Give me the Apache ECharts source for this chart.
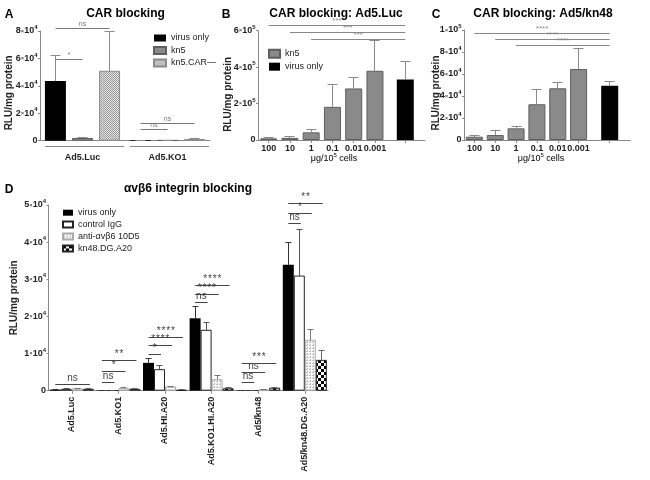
<!DOCTYPE html>
<html><head><meta charset="utf-8">
<script src="https://cdn.jsdelivr.net/npm/echarts@6/dist/echarts.min.js"></script>
<style>html,body{margin:0;padding:0;background:#fff}#c{width:650px;height:480px}</style>
</head><body><div id="c"></div>
<script>
// ================= DATA =================
// Panel A
const aCategories = ['Ad5.Luc', 'Ad5.KO1'];
const aSeriesNames = ['virus only', 'kn5', 'kn5.CAR—'];
const aVirusOnly = [43500, 500];
const aVirusOnlyErr = [18500, 0];
const aKn5 = [2000, 400];
const aKn5Err = [600, 0];
const aKn5CAR = [51000, 1200];
const aKn5CARErr = [28500, 300];
const aTicks = ['0', '2×10^4', '4×10^4', '6×10^4', '8×10^4'];
const aSig = [[0, 0, 2, 82000], [0, 0, 1, 59000], [1, 0, 2, 12900], [1, 0, 1, 8500]];
const aSigLabels = ['ns', '*', 'ns', 'ns'];

// Panel B
const bCategories = ['100', '10', '1', '0.1', '0.01', '0.001'];
const bKn5 = [9000, 12000, 42000, 182000, 283000, 380000];
const bKn5Err = [5000, 5000, 17000, 125000, 58000, 164000];
const bVirusOnly = [332000];
const bVirusOnlyErr = [97000];
const bTicks = ['0', '2×10^5', '4×10^5', '6×10^5'];
const bSig = [[0, 631000], [1, 591000], [2, 554000]];
const bSigLabels = ['***', '***', '***'];

// Panel C
const cCategories = ['100', '10', '1', '0.1', '0.01', '0.001'];
const cKn5 = [3000, 4500, 10600, 32500, 47000, 64500];
const cKn5Err = [1500, 3700, 2100, 13600, 5500, 18900];
const cVirusOnly = [49400];
const cVirusOnlyErr = [4200];
const cTicks = ['0', '2×10^4', '4×10^4', '6×10^4', '8×10^4', '1×10^5'];
const cSig = [[0, 97000], [1, 91500], [2, 86100]];
const cSigLabels = ['****', '****', '****'];

// Panel D
const dCategories = ['Ad5.Luc', 'Ad5.KO1', 'Ad5.HI.A20', 'Ad5.KO1.HI.A20', 'Ad5/kn48', 'Ad5/kn48.DG.A20'];
const dSeriesNames = ['virus only', 'control IgG', 'anti-αvβ6 10D5', 'kn48.DG.A20'];
const dVirusOnly = [300, 100, 7500, 19500, 100, 33900];
const dVirusOnlyErr = [100, 0, 1200, 3100, 0, 6000];
const dIgG = [500, 100, 5800, 16400, 100, 31000];
const dIgGErr = [100, 0, 900, 2000, 0, 12500];
const dAnti = [600, 700, 1100, 3100, 300, 13700];
const dAntiErr = [100, 200, 100, 900, 100, 2700];
const dKn48 = [500, 500, 200, 650, 800, 8300];
const dKn48Err = [100, 100, 0, 100, 100, 2500];
const dTicks = ['0', '1×10^4', '2×10^4', '3×10^4', '4×10^4', '5×10^4'];
const dSig = [[0, 0, 3, 1700], [1, 0, 1, 2150], [1, 0, 2, 5100], [1, 0, 3, 8100],
  [2, 0, 1, 9800], [2, 0, 2, 12050], [2, 0, 3, 14400],
  [3, 0, 1, 23700], [3, 0, 2, 26000], [3, 0, 3, 28200],
  [4, 0, 1, 2150], [4, 0, 2, 4850], [4, 0, 3, 7200],
  [5, 0, 1, 45100], [5, 0, 2, 47800], [5, 0, 3, 50500]];
const dSigLabels = ['ns', 'ns', '*', '**', '*', '****', '****', 'ns', '****', '****', 'ns', 'ns', '***', 'ns', '*', '**'];

// Texts
const titles = ['CAR blocking', 'CAR blocking: Ad5.Luc', 'CAR blocking: Ad5/kn48', 'αvβ6 integrin blocking'];
const panelLetters = ['A', 'B', 'C', 'D'];
const yName = 'RLU/mg protein';
const xNameBC = ['μg/10', '5', ' cells'];

// ================= LAYOUT / STYLE =================
const FONT = '"Liberation Sans", Arial, sans-serif';
const G = {
  A: {left: 40, top: 31, width: 170, height: 109.7},
  B1: {left: 258, top: 30.7, width: 127.6, height: 109.3},
  B2: {left: 385.6, top: 30.7, width: 39.4, height: 109.3},
  C1: {left: 464, top: 30, width: 125, height: 110},
  C2: {left: 589, top: 30, width: 41.4, height: 110},
  D: {left: 48.5, top: 205, width: 279.6, height: 185.7}
};
const AXC = '#888';
const crisp = v => Math.round(v - 0.5) + 0.5;

function pat(w, h, draw) {
  const c = document.createElement('canvas'); c.width = w; c.height = h;
  const g = c.getContext('2d'); draw(g); return {image: c, repeat: 'repeat'};
}
const hatch = pat(4, 4, g => {
  g.fillStyle = '#e4e4e4'; g.fillRect(0, 0, 4, 4); g.fillStyle = '#9a9a9a';
  for (let i = 0; i < 4; i++) { g.fillRect(i, i, 1, 1); g.fillRect((i + 2) % 4, i, 1, 1); }
});
const dots = pat(3, 3, g => {
  g.fillStyle = '#fafafa'; g.fillRect(0, 0, 3, 3); g.fillStyle = '#bdbdbd';
  g.fillRect(0, 0, 2, 1); g.fillRect(1, 2, 1, 1);
});
const checker = pat(6, 6, g => {
  g.fillStyle = '#fff'; g.fillRect(0, 0, 6, 6); g.fillStyle = '#000';
  g.fillRect(0, 0, 3, 3); g.fillRect(3, 3, 3, 3);
});

const tickRich = {
  m: {fontSize: 9, fontWeight: 'bold', color: '#222', fontFamily: FONT},
  x: {fontSize: 6, color: '#222', fontFamily: FONT},
  e: {fontSize: 6, fontWeight: 'bold', color: '#222', fontFamily: FONT, padding: [0, 0, 7, 0]}
};
function tickFmt(labels) {
  return (v, i) => {
    const t = labels[i]; if (t === undefined) return '';
    const p = t.split('^');
    if (p.length < 2) return '{m|' + p[0] + '}';
    const q = p[0].split('×');
    return '{m|' + q[0] + '}{x|×}{m|' + q[1] + '}{e|' + p[1] + '}';
  };
}

const grids = [G.A, G.B1, G.B2, G.C1, G.C2, G.D];

function xAxis(gi, data, opts) {
  return Object.assign({
    gridIndex: gi, type: 'category', data: data,
    axisLine: {lineStyle: {color: AXC, width: 1}},
    axisTick: {show: true, alignWithLabel: true, length: 3, lineStyle: {color: AXC}},
    axisLabel: {interval: 0, margin: 4, fontSize: 9, fontWeight: 'bold', color: '#222', fontFamily: FONT}
  }, opts || {});
}
function yAxis(gi, max, interval, labels, show, nameGap, namePad) {
  return {
    gridIndex: gi, type: 'value', min: 0, max: max, interval: interval, show: show,
    splitLine: {show: false},
    axisLine: {show: true, lineStyle: {color: AXC, width: 1}},
    axisTick: {show: true, length: 2, lineStyle: {color: AXC}},
    axisLabel: {margin: 2.5, formatter: tickFmt(labels), rich: tickRich},
    name: show ? yName : '', nameLocation: 'middle', nameGap: nameGap, nameMoveOverlap: false,
    nameTextStyle: {fontSize: 10, fontWeight: 'bold', color: '#222', fontFamily: FONT, padding: namePad}
  };
}

const xAxes = [
  xAxis(0, aCategories, {axisTick: {show: false}, axisLabel: {interval: 0, margin: 12, fontSize: 9, fontWeight: 'bold', color: '#222', fontFamily: FONT}}),
  xAxis(1, bCategories),
  xAxis(2, ['']),
  xAxis(3, cCategories),
  xAxis(4, ['']),
  xAxis(5, dCategories, {axisLabel: {interval: 0, rotate: 90, margin: 6, fontSize: 9, fontWeight: 'bold', color: '#222', fontFamily: FONT}})
];
const yAxes = [
  yAxis(0, 80000, 20000, aTicks, true, 26, [0, 14, 0, 0]),
  yAxis(1, 600000, 200000, bTicks, true, 25, [0, 18, 0, 0]),
  yAxis(2, 600000, 200000, bTicks, false, 0, 0),
  yAxis(3, 100000, 20000, cTicks, true, 23, [0, 16, 0, 0]),
  yAxis(4, 100000, 20000, cTicks, false, 0, 0),
  yAxis(5, 50000, 10000, dTicks, true, 29, 0)
];

const styBlack = {color: '#000'};
const styGray = {color: '#8a8a8a', borderColor: '#5e5e5e', borderWidth: 1};
const styHatch = {color: hatch, borderColor: '#8a8a8a', borderWidth: 1};
const styWhite = {color: '#fff', borderColor: '#222', borderWidth: 1};
const styDots = {color: dots, borderColor: '#aaa', borderWidth: 1};
const styChecker = {color: checker, borderColor: '#222', borderWidth: 1};

function bar(name, xi, data, style, w, gap) {
  const s = {type: 'bar', name: name, xAxisIndex: xi, yAxisIndex: xi, data: data, barWidth: w,
    itemStyle: style, silent: true, z: 2};
  if (gap !== undefined) s.barGap = gap;
  return s;
}

// error bars: rows [cat, seriesIdx, value, err]
function errSeries(xi, rows, offFn, cap, colors) {
  return {
    type: 'custom', xAxisIndex: xi, yAxisIndex: xi, data: rows, silent: true, z: 4, clip: false,
    renderItem(params, api) {
      const cat = api.value(0), s = api.value(1), v = api.value(2), e = api.value(3);
      const p0 = api.coord([cat, v]), p1 = api.coord([cat, v + e]);
      const x = crisp(p0[0] + offFn(s)), y0 = Math.round(p0[1]), y1 = crisp(p1[1]);
      const st = {stroke: colors[s], lineWidth: 1};
      return {type: 'group', children: [
        {type: 'line', shape: {x1: x, y1: y0, x2: x, y2: y1}, style: st},
        {type: 'line', shape: {x1: x - cap / 2, y1: y1, x2: x + cap / 2, y2: y1}, style: st}
      ]};
    }
  };
}
function rowsFor(vals, errs) {
  const r = [];
  vals.forEach((arr, s) => arr.forEach((v, c) => r.push([c, s, v, errs[s][c]])));
  return r;
}
function sigText(t, spaced) { return spaced && /^\*+$/.test(t) ? t.split('').join('\u200A') : t; }
// significance lines within a grouped panel: rows [cat, from, to, y]
function sigSeries(xi, rows, labels, offFn, color, fs, spaced, endExt) {
  return {
    type: 'custom', xAxisIndex: xi, yAxisIndex: xi, data: rows, silent: true, z: 5, clip: false,
    renderItem(params, api) {
      const cat = api.value(0), f = api.value(1), t = api.value(2), yv = api.value(3);
      const p = api.coord([cat, yv]);
      const x1 = p[0] + offFn(f), x2 = p[0] + offFn(t) + endExt, y = crisp(p[1]);
      return {type: 'group', children: [
        {type: 'line', shape: {x1: x1, y1: y, x2: x2, y2: y}, style: {stroke: color, lineWidth: 1}},
        {type: 'text', x: (x1 + x2) / 2, y: y - 1, style: {text: sigText(labels[params.dataIndex], spaced),
          font: fs + 'px ' + FONT, fill: color, align: 'center', verticalAlign: 'bottom'}}
      ]};
    }
  };
}
// significance lines from a kn5 bar to the separate virus-only grid (its category centre)
function sigToSeries(xi, rows, labels, endGrid, color, fs) {
  const xEnd = endGrid.left + endGrid.width / 2;
  return {
    type: 'custom', xAxisIndex: xi, yAxisIndex: xi, data: rows, silent: true, z: 5, clip: false,
    renderItem(params, api) {
      const p = api.coord([api.value(0), api.value(1)]);
      const y = crisp(p[1]);
      return {type: 'group', children: [
        {type: 'line', shape: {x1: p[0], y1: y, x2: xEnd, y2: y}, style: {stroke: color, lineWidth: 1}},
        {type: 'text', x: (p[0] + xEnd) / 2, y: y - 1, style: {text: labels[params.dataIndex],
          font: fs + 'px ' + FONT, fill: color, align: 'center', verticalAlign: 'bottom'}}
      ]};
    }
  };
}
// group brackets under panel A categories
const bracketSeries = {
  type: 'custom', xAxisIndex: 0, yAxisIndex: 0, data: aCategories.map((c, i) => [i, 0]), silent: true, clip: false,
  renderItem(params, api) {
    const p = api.coord([api.value(0), 0]); const bw = api.size([1, 0])[0];
    const y = crisp(p[1] + 5.5);
    return {type: 'line', shape: {x1: p[0] - bw / 2 + 5, y1: y, x2: p[0] + bw / 2 - 1, y2: y}, style: {stroke: AXC, lineWidth: 1}};
  }
};

const offA = s => (s - 1) * 27;
const offD = s => (s - 1.5) * 11;
const off0 = s => 0;

const series = [
  bar(aSeriesNames[0], 0, aVirusOnly, styBlack, 21, '29%'),
  bar(aSeriesNames[1], 0, aKn5, styGray, 21, '29%'),
  bar(aSeriesNames[2], 0, aKn5CAR, styHatch, 21, '29%'),
  bar('kn5', 1, bKn5, styGray, 17),
  bar('virus only', 2, bVirusOnly, styBlack, 17),
  bar('kn5', 3, cKn5, styGray, 17),
  bar('virus only', 4, cVirusOnly, styBlack, 17),
  bar(dSeriesNames[0], 5, dVirusOnly, styBlack, 11, '0%'),
  bar(dSeriesNames[1], 5, dIgG, styWhite, 11, '0%'),
  bar(dSeriesNames[2], 5, dAnti, styDots, 11, '0%'),
  bar(dSeriesNames[3], 5, dKn48, styChecker, 11, '0%'),
  errSeries(0, rowsFor([aVirusOnly, aKn5, aKn5CAR], [aVirusOnlyErr, aKn5Err, aKn5CARErr]), offA, 10, ['#8a8a8a', '#8a8a8a', '#8a8a8a']),
  errSeries(1, rowsFor([bKn5], [bKn5Err]), off0, 10, ['#8a8a8a']),
  errSeries(2, rowsFor([bVirusOnly], [bVirusOnlyErr]), off0, 10, ['#8a8a8a']),
  errSeries(3, rowsFor([cKn5], [cKn5Err]), off0, 10, ['#8a8a8a']),
  errSeries(4, rowsFor([cVirusOnly], [cVirusOnlyErr]), off0, 10, ['#8a8a8a']),
  errSeries(5, rowsFor([dVirusOnly, dIgG, dAnti, dKn48], [dVirusOnlyErr, dIgGErr, dAntiErr, dKn48Err]), offD, 6, ['#333', '#555', '#777', '#666']),
  sigSeries(0, aSig, aSigLabels, offA, '#777', 7, false, 0),
  sigToSeries(1, bSig, bSigLabels, G.B2, '#888', 8),
  sigToSeries(3, cSig, cSigLabels, G.C2, '#888', 8),
  sigSeries(5, dSig, dSigLabels, offD, '#444', 10, true, 1.5),
  bracketSeries
];

const legTxt = {fontSize: 9, color: '#222', fontFamily: FONT};
const legends = [
  {left: 153, top: 33.5, padding: 0, orient: 'vertical', icon: 'rect', itemWidth: 12, itemHeight: 7, itemGap: 3.5, selectedMode: false, textStyle: legTxt, data: aSeriesNames},
  {left: 268, top: 48.8, padding: 0, orient: 'vertical', icon: 'rect', itemWidth: 11, itemHeight: 8, itemGap: 3.4, selectedMode: false, textStyle: legTxt, data: ['kn5', 'virus only']},
  {left: 62, top: 208.2, padding: 0, orient: 'vertical', icon: 'rect', itemWidth: 10, itemHeight: 6, itemGap: 2.9, selectedMode: false, textStyle: legTxt, data: dSeriesNames}
];

function txt(x, y, text, font) {
  return {type: 'text', x: x, y: y, silent: true, style: {text: text, font: font, fill: '#000', align: 'center', verticalAlign: 'middle'}};
}
const xNameRich = {
  a: {fontSize: 9, color: '#222', fontFamily: FONT},
  s: {fontSize: 6, color: '#222', fontFamily: FONT, padding: [0, 0, 7, 0]}
};
function xName(x, y) {
  return {type: 'text', x: x, y: y, silent: true, style: {
    text: '{a|' + xNameBC[0] + '}{s|' + xNameBC[1] + '}{a|' + xNameBC[2] + '}', rich: xNameRich,
    align: 'center', verticalAlign: 'middle'}};
}
const graphics = [
  txt(9, 15, panelLetters[0], 'bold 12px ' + FONT),
  txt(226, 15, panelLetters[1], 'bold 12px ' + FONT),
  txt(436, 15, panelLetters[2], 'bold 12px ' + FONT),
  txt(9, 190, panelLetters[3], 'bold 12px ' + FONT),
  txt(125.5, 14, titles[0], 'bold 12px ' + FONT),
  txt(336, 14, titles[1], 'bold 12px ' + FONT),
  txt(543, 14, titles[2], 'bold 12px ' + FONT),
  txt(188, 189, titles[3], 'bold 12px ' + FONT),
  xName(334, 159),
  xName(541, 159)
];

const chart = echarts.init(document.getElementById('c'), null, {renderer: 'canvas'});
chart.setOption({
  animation: false,
  backgroundColor: '#fff',
  textStyle: {fontFamily: FONT},
  grid: grids.map(g => Object.assign({containLabel: false}, g)),
  xAxis: xAxes,
  yAxis: yAxes,
  legend: legends,
  graphic: graphics,
  series: series
});
</script></body></html>
